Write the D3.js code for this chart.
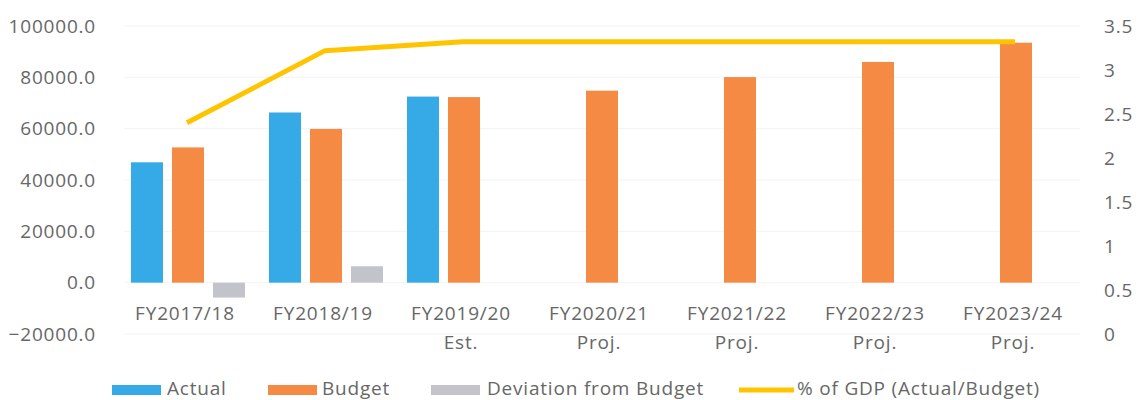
<!DOCTYPE html>
<html>
<head>
<meta charset="utf-8">
<script src="https://cdn.jsdelivr.net/npm/d3@7"></script>
<style>
  body { margin: 0; background: #fff; }
  text { font-family: "Open Sans", sans-serif; fill: #676767; }
</style>
</head>
<body>
<svg class="chart" width="1141" height="400"></svg>
<script>
// data
var categories = ["FY2017/18", "FY2018/19", "FY2019/20", "FY2020/21", "FY2021/22", "FY2022/23", "FY2023/24"]
var subLabels = ["", "", "Est.", "Proj.", "Proj.", "Proj.", "Proj."]
var actual = [46900, 66300, 72500, null, null, null, null]
var budget = [52700, 59900, 72300, 74800, 80100, 86000, 93500]
var deviation = [-5800, 6400, null, null, null, null, null]
var gdpPct = [2.4, 3.22, 3.32, 3.32, 3.32, 3.32, 3.32]
var leftTicks = [-20000, 0, 20000, 40000, 60000, 80000, 100000]
var rightTicks = [0, 0.5, 1, 1.5, 2, 2.5, 3, 3.5]

var series = ["Actual", "Budget", "Deviation from Budget"]
var colors = {"Actual": "#35aae6", "Budget": "#f58a45", "Deviation from Budget": "#c3c3cb"}
var lineColor = "#ffc400"

var rows = categories.map((c, i) => ({cat: c, vals: [
    {key: "Actual", v: actual[i]},
    {key: "Budget", v: budget[i]},
    {key: "Deviation from Budget", v: deviation[i]}
]}))

var chart = d3.select(".chart")
    .style("font-size", "19px")
    .style("letter-spacing", "0.8px")

var x0 = d3.scaleBand()
    .domain(categories)
    .range([118, 1084])

var x1 = d3.scaleBand()
    .domain(series)
    .range([13, x0.bandwidth() - 11])
    .paddingInner(0.22)

var y = d3.scaleLinear() // left axis
    .domain([-20000, 100000])
    .range([334, 26])

var y2 = d3.scaleLinear() // right axis, same pixel range
    .domain([0, 3.5])
    .range([334, 26])

// gridlines
chart.append("g")
    .selectAll("line")
    .data(leftTicks)
    .enter().append("line")
    .attr("x1", 124).attr("x2", 1080)
    .attr("y1", d => y(d)).attr("y2", d => y(d))
    .attr("stroke", "#f3f3f3")
    .attr("stroke-width", 1)

// left axis
var ya = chart.append("g")
    .attr("transform", "translate(118,0)")
    .call(d3.axisLeft(y).tickValues(leftTicks).tickFormat(d3.format(".1f")).tickSize(0).tickPadding(22))
ya.select(".domain").remove()
ya.selectAll("text").style("font-size", "19px").attr("fill", null).attr("font-family", null)

// right axis
var yb = chart.append("g")
    .attr("transform", "translate(1084,0)")
    .call(d3.axisRight(y2).tickValues(rightTicks).tickFormat(d => String(d)).tickSize(0).tickPadding(20))
yb.select(".domain").remove()
yb.selectAll("text").style("font-size", "19px").attr("fill", null).attr("font-family", null)

// bars
chart.append("g")
    .selectAll("g")
    .data(rows)
    .enter().append("g")
    .attr("transform", d => `translate(${x0(d.cat)},0)`)
    .selectAll("rect")
    .data(d => d.vals.filter(v => v.v != null))
    .enter().append("rect")
    .attr("x", d => x1(d.key))
    .attr("width", x1.bandwidth())
    .attr("y", d => y(Math.max(0, d.v)))
    .attr("height", d => Math.abs(y(d.v) - y(0)))
    .attr("fill", d => colors[d.key])

// % of GDP line
var line = d3.line()
    .x((d, i) => x0(categories[i]) + x0.bandwidth() / 2)
    .y(d => y2(d))

chart.append("path")
    .datum(gdpPct)
    .attr("d", line)
    .attr("fill", "none")
    .attr("stroke", lineColor)
    .attr("stroke-width", 5)
    .attr("stroke-linejoin", "round")

// category labels (two lines)
var xl = chart.append("g")
    .selectAll("text")
    .data(categories)
    .enter().append("text")
    .attr("text-anchor", "middle")
    .attr("transform", d => `translate(${x0(d) + x0.bandwidth() / 2 - 2},0)`)
xl.append("tspan").attr("x", 0).attr("y", 320).text(d => d)
xl.append("tspan").attr("x", 0).attr("y", 349).text((d, i) => subLabels[i])

// legend
var legend = chart.append("g")
var legItems = [
    {name: "Actual", sx: 112, tx: 167},
    {name: "Budget", sx: 268, tx: 322},
    {name: "Deviation from Budget", sx: 431, tx: 487}
]
legend.selectAll("rect")
    .data(legItems)
    .enter().append("rect")
    .attr("x", d => d.sx).attr("y", 385)
    .attr("width", 49).attr("height", 10)
    .attr("fill", d => colors[d.name])
legend.selectAll("text.s")
    .data(legItems)
    .enter().append("text")
    .attr("class", "s")
    .attr("x", d => d.tx).attr("y", 395)
    .text(d => d.name)
legend.append("line")
    .attr("x1", 739).attr("x2", 794)
    .attr("y1", 390).attr("y2", 390)
    .attr("stroke", lineColor).attr("stroke-width", 5)
legend.append("text")
    .attr("x", 797).attr("y", 395)
    .text("% of GDP (Actual/Budget)")
</script>
</body>
</html>
